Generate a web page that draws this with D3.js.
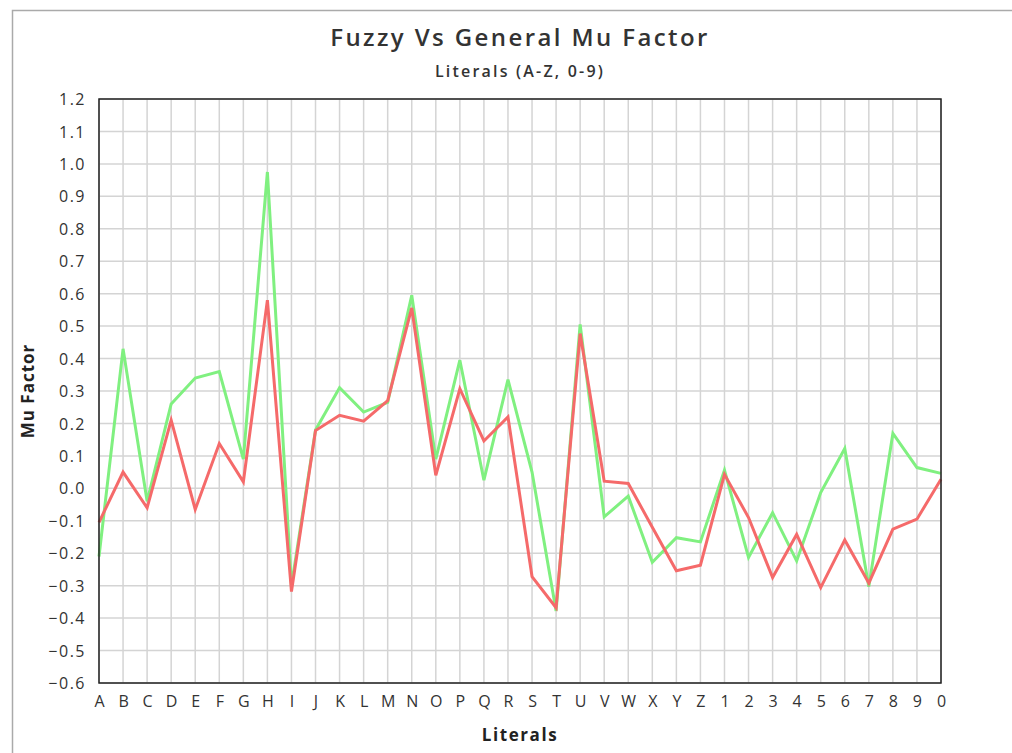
<!DOCTYPE html>
<html>
<head>
<meta charset="utf-8">
<script src="https://cdn.jsdelivr.net/npm/d3@7"></script>
<style>
  body { margin: 0; background: #fff; }
  text { font-family: "Open Sans", sans-serif; }
</style>
</head>
<body>
<div id="chart"></div>
<script>
    // literals on the x axis
    let literals = ["A","B","C","D","E","F","G","H","I","J","K","L","M","N","O","P","Q","R","S","T","U","V","W","X","Y","Z","1","2","3","4","5","6","7","8","9","0"];
    // green series
    let fuzzyMu = [-0.21, 0.43, -0.04, 0.26, 0.34, 0.36, 0.09, 0.975, -0.30, 0.18, 0.31, 0.235, 0.265, 0.595, 0.09, 0.395, 0.025, 0.335, 0.05, -0.378, 0.505, -0.088, -0.024, -0.228, -0.152, -0.165, 0.056, -0.213, -0.075, -0.224, -0.013, 0.123, -0.303, 0.169, 0.064, 0.046];
    // red series
    let generalMu = [-0.105, 0.05, -0.06, 0.21, -0.065, 0.138, 0.02, 0.58, -0.318, 0.178, 0.225, 0.207, 0.27, 0.556, 0.04, 0.307, 0.146, 0.22, -0.272, -0.368, 0.477, 0.022, 0.015, -0.12, -0.254, -0.237, 0.043, -0.09, -0.275, -0.142, -0.306, -0.159, -0.292, -0.126, -0.095, 0.028];
    let yTicks = [-0.6,-0.5,-0.4,-0.3,-0.2,-0.1,0,0.1,0.2,0.3,0.4,0.5,0.6,0.7,0.8,0.9,1.0,1.1,1.2];

    let width = 1012, height = 753;
    const margin = { top: 99, bottom: 70, left: 99, right: 71 };

    let svg = d3.select("#chart").append("svg")
      .attr("width", width)
      .attr("height", height);

    // outer frame
    svg.append("rect")
      .attr("x", 12.5).attr("y", 10.5)
      .attr("width", 1100).attr("height", 1000)
      .attr("fill", "none")
      .attr("stroke", "#aaa")
      .attr("stroke-width", 1.5);

    const x = d3.scalePoint()
      .domain(literals)
      .range([margin.left, width - margin.right]);

    const y = d3.scaleLinear()
      .domain([-0.6, 1.2])
      .range([height - margin.bottom, margin.top]);

    // grid
    svg.append("g")
      .selectAll("line")
      .data(literals)
      .join("line")
      .attr("x1", d => x(d)).attr("x2", d => x(d))
      .attr("y1", margin.top).attr("y2", height - margin.bottom)
      .attr("stroke", "#d4d4d4")
      .attr("stroke-width", 1.5);

    svg.append("g")
      .selectAll("line")
      .data(yTicks)
      .join("line")
      .attr("x1", margin.left).attr("x2", width - margin.right)
      .attr("y1", d => y(d)).attr("y2", d => y(d))
      .attr("stroke", "#d4d4d4")
      .attr("stroke-width", 1.5);

    function yAxis(g) {
      g.attr("transform", `translate(${margin.left - 10}, 0)`)
        .call(d3.axisLeft(y).tickValues(yTicks).tickFormat(d3.format(".1f")).tickSize(0))
        .call(g => g.select(".domain").remove());
      g.selectAll("text")
        .style("font-size", "16px")
        .style("letter-spacing", "1.5px")
        .attr("fill", "#333")
        .attr("dy", "0.35em");
    }

    function xAxis(g) {
      g.attr("transform", `translate(0,${height - margin.bottom + 10})`)
        .call(d3.axisBottom(x).tickSize(0))
        .call(g => g.select(".domain").remove());
      g.selectAll("text")
        .style("font-size", "16px")
        .attr("fill", "#333")
        .attr("dy", "0.71em");
    }

    svg.append("g").call(xAxis);
    svg.append("g").call(yAxis);

    const line = d3.line()
      .x((d, i) => x(literals[i]))
      .y(d => y(d));

    svg.append("path")
      .datum(fuzzyMu)
      .attr("d", line)
      .attr("fill", "none")
      .attr("stroke", "#80f080")
      .attr("stroke-width", 3);

    svg.append("path")
      .datum(generalMu)
      .attr("d", line)
      .attr("fill", "none")
      .attr("stroke", "#f56a6a")
      .attr("stroke-width", 3);

    // plot border
    svg.append("rect")
      .attr("x", margin.left).attr("y", margin.top)
      .attr("width", width - margin.left - margin.right)
      .attr("height", height - margin.top - margin.bottom)
      .attr("fill", "none")
      .attr("stroke", "#222")
      .attr("stroke-width", 1.5);

    const cx = (margin.left + width - margin.right) / 2;

    svg.append("text")
      .attr("x", cx).attr("y", 46)
      .attr("text-anchor", "middle")
      .style("font-size", "24px")
      .style("letter-spacing", "2.4px")
      .attr("font-weight", 600)
      .attr("fill", "#333")
      .text("Fuzzy Vs General Mu Factor");

    svg.append("text")
      .attr("x", cx).attr("y", 77)
      .attr("text-anchor", "middle")
      .style("font-size", "16px")
      .style("letter-spacing", "2.2px")
      .attr("font-weight", 600)
      .attr("fill", "#333")
      .text("Literals (A-Z, 0-9)");

    svg.append("text")
      .attr("x", cx).attr("y", 741)
      .attr("text-anchor", "middle")
      .style("font-size", "17px")
      .style("letter-spacing", "1.6px")
      .attr("font-weight", 700)
      .attr("fill", "#222")
      .text("Literals");

    svg.append("text")
      .attr("transform", `translate(34, ${(margin.top + height - margin.bottom) / 2}) rotate(-90)`)
      .attr("text-anchor", "middle")
      .style("font-size", "17px")
      .style("letter-spacing", "1px")
      .attr("font-weight", 700)
      .attr("fill", "#222")
      .text("Mu Factor");
</script>
</body>
</html>
